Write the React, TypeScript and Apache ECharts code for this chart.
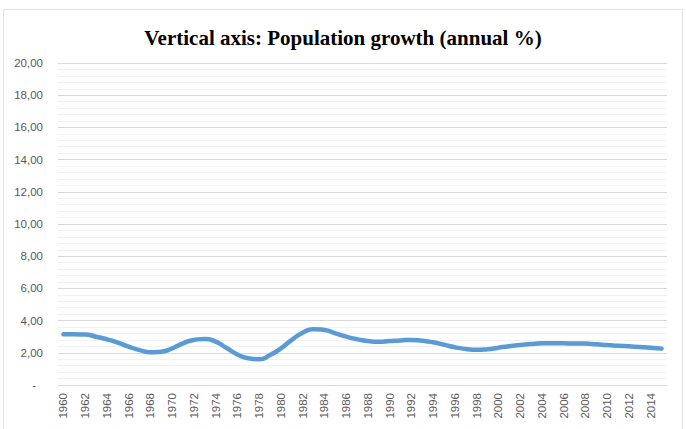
import React, { useEffect, useRef } from "react";
import * as echarts from "echarts";

// Years 1960–2015
const years: string[] = [
  "1960", "1961", "1962", "1963", "1964", "1965", "1966", "1967", "1968", "1969",
  "1970", "1971", "1972", "1973", "1974", "1975", "1976", "1977", "1978", "1979",
  "1980", "1981", "1982", "1983", "1984", "1985", "1986", "1987", "1988", "1989",
  "1990", "1991", "1992", "1993", "1994", "1995", "1996", "1997", "1998", "1999",
  "2000", "2001", "2002", "2003", "2004", "2005", "2006", "2007", "2008", "2009",
  "2010", "2011", "2012", "2013", "2014", "2015",
];

// Population growth (annual %)
const growth: number[] = [
  3.15, 3.15, 3.13, 3.0, 2.84, 2.63, 2.38, 2.17, 2.03, 2.07,
  2.28, 2.59, 2.8, 2.86, 2.69, 2.3, 1.9, 1.66, 1.6, 1.86,
  2.28, 2.8, 3.25, 3.46, 3.42, 3.21, 3.0, 2.84, 2.73, 2.69,
  2.73, 2.77, 2.8, 2.75, 2.65, 2.5, 2.34, 2.24, 2.19, 2.22,
  2.32, 2.41, 2.48, 2.55, 2.59, 2.6, 2.59, 2.58, 2.57, 2.53,
  2.48, 2.44, 2.4, 2.36, 2.32, 2.26,
];

const titleText = "Vertical axis: Population growth (annual %)";

export default function App() {
  const ref = useRef<HTMLDivElement>(null);

  useEffect(() => {
    if (!ref.current) return;
    const chart = echarts.init(ref.current, undefined, { renderer: "svg" });
    chart.setOption({
      animation: false,
      backgroundColor: "#ffffff",
      title: {
        text: titleText,
        left: "center",
        top: 22,
        textStyle: {
          fontFamily: "Liberation Serif",
          fontWeight: "bold",
          fontSize: 21,
          color: "#000000",
        },
      },
      graphic: [
        {
          type: "rect",
          shape: { x: 3.5, y: 9.5, width: 679, height: 430 },
          style: { fill: "none", stroke: "#e3e3e3", lineWidth: 1 },
          silent: true,
        },
      ],
      grid: { left: 58, right: 19, top: 63, bottom: 44, containLabel: false },
      xAxis: {
        type: "category",
        data: years,
        boundaryGap: true,
        axisLine: { show: true, lineStyle: { color: "#d9d9d9", width: 1 } },
        axisTick: { show: false },
        axisLabel: {
          interval: 1,
          rotate: 90,
          margin: 8,
          color: "#595959",
          fontFamily: "Liberation Sans",
          fontSize: 11.5,
        },
        splitLine: { show: false },
      },
      yAxis: {
        type: "value",
        min: 0,
        max: 20,
        interval: 2,
        axisLine: { show: false },
        axisTick: { show: false },
        axisLabel: {
          margin: 15,
          color: "#595959",
          fontFamily: "Liberation Sans",
          fontSize: 11.5,
          formatter: (v: number) =>
            v === 0 ? "{dash|-}" : v.toFixed(2).replace(".", ","),
          rich: {
            dash: {
              color: "#595959",
              fontFamily: "Liberation Sans",
              fontSize: 11.5,
              padding: [0, 7, 0, 0],
            },
          },
        },
        splitLine: { show: true, lineStyle: { color: "#d9d9d9", width: 1 } },
        minorTick: { show: false, splitNumber: 5 },
        minorSplitLine: { show: true, lineStyle: { color: "#f2f2f2", width: 1 } },
      },
      series: [
        {
          type: "line",
          data: growth,
          smooth: 0.6,
          showSymbol: false,
          symbol: "none",
          lineStyle: { color: "#5b9bd5", width: 4.5, cap: "round" },
          itemStyle: { color: "#5b9bd5" },
        },
      ],
    });
    return () => chart.dispose();
  }, []);

  return (
    <div
      ref={ref}
      style={{ position: "absolute", left: 0, top: 0, width: 686, height: 429 }}
    />
  );
}
